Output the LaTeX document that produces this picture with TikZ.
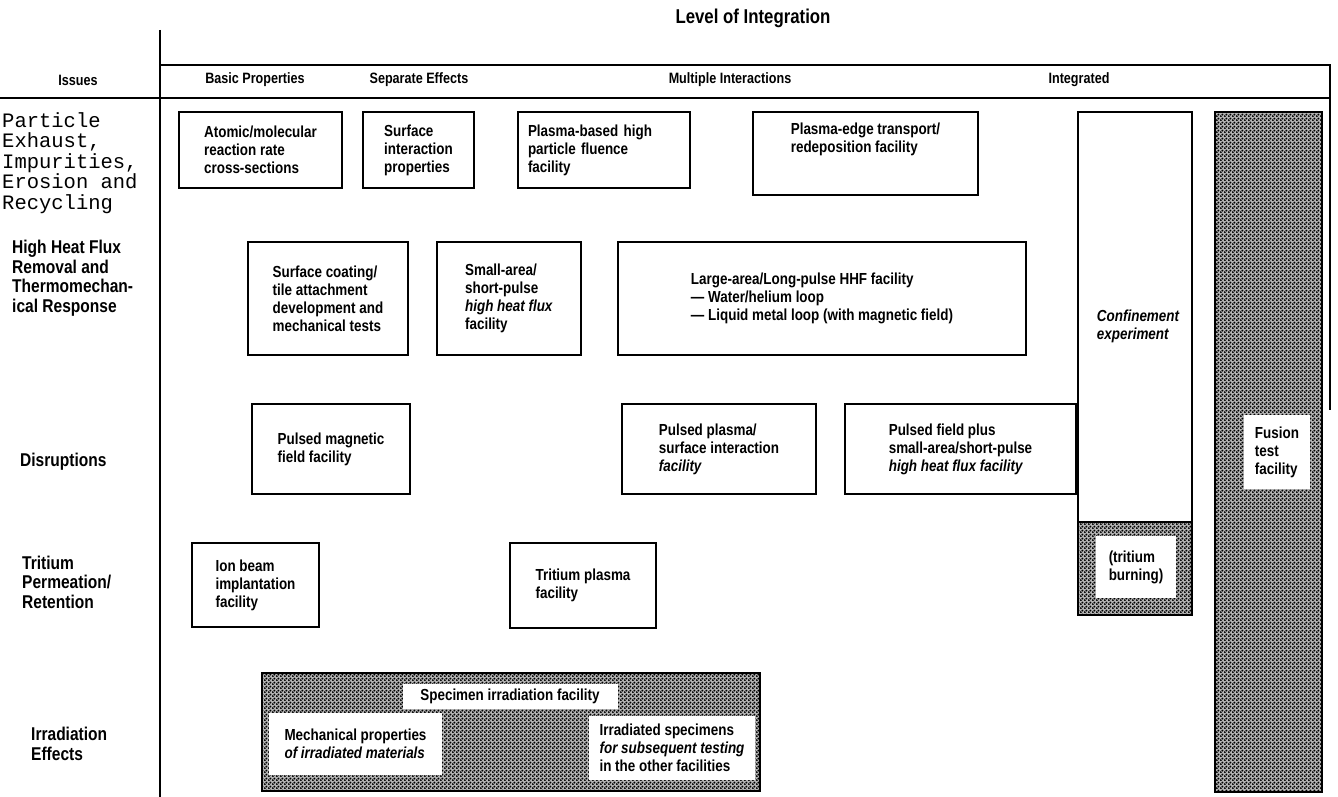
\documentclass[tikz,border=0pt]{standalone}
\usepackage{fontspec}
\setmainfont{Liberation Sans}[FakeStretch=0.84]
\setmonofont{Liberation Mono}
\usetikzlibrary{patterns}

% halftone screen of the shaded facilities
\pgfdeclarepatternformonly{halftone}{\pgfpointorigin}{\pgfpoint{4pt}{4pt}}{\pgfpoint{4pt}{4pt}}{%
    \pgfpathcircle{\pgfpoint{1pt}{1pt}}{1.3pt}%
    \pgfpathcircle{\pgfpoint{3pt}{3pt}}{1.3pt}%
    \pgfusepath{fill}}

\newcommand{\facfont}{\bfseries\fontsize{16}{18}\selectfont}
\newcommand{\issuefont}{\bfseries\fontsize{18.5}{19.5}\selectfont}
\newcommand{\headfont}{\bfseries\fontsize{15}{17}\selectfont}

\tikzset{
    facility/.style={
        draw=black,
        line width=2.5pt,
        align=left,
        inner sep=4pt,
        font=\facfont
    },
    shaded/.style={
        draw=black,
        line width=2.5pt,
        preaction={fill=black!30},
        pattern=halftone,
        pattern color=black
    },
    inset/.style={
        fill=white,
        align=left,
        inner sep=4pt,
        font=\facfont
    },
    issue/.style={
        align=left,
        anchor=west,
        inner sep=0pt,
        font=\issuefont
    },
    heading/.style={
        inner sep=0pt,
        font=\headfont
    },
    rule/.style={
        line width=1.8pt
    }
}

\begin{document}
\begin{tikzpicture}[x=1pt, y=-1pt]
            \useasboundingbox (0,0) rectangle (1338,797);

            % Frame
            \coordinate (axtop) at (160,30);
            \coordinate (axbot) at (160,797);
            \coordinate (hdtl) at (160,65);
            \coordinate (hdtr) at (1330,65);
            \coordinate (hdbl) at (0,98);
            \coordinate (hdbr) at (1330,98);
            \coordinate (rbot) at (1330,410);
            \draw [rule] (axtop) -- (axbot);
            \draw [rule] (hdtl) -- (hdtr) -- (rbot);
            \draw [rule] (hdbl) -- (hdbr);

            % Headings
            \node (level) [heading, font=\bfseries\fontsize{20}{22}\selectfont] at (753,18) {Level of Integration};
            \node (issues) [heading] at (78,80) {Issues};
            \node (basic) [heading] at (255,80) {Basic Properties};
            \node (separate) [heading] at (419,80) {Separate Effects};
            \node (multiple) [heading] at (730,80) {Multiple Interactions};
            \node (integrated) [heading] at (1079,80) {Integrated};

            % Issues
            \node (particle) [
                issue,
                anchor=north west,
                font=\ttfamily\fontsize{20.5}{20.5}\selectfont
            ] at (2,112) {Particle\\Exhaust,\\Impurities,\\Erosion and\\Recycling};
            \node (heatflux) [issue] at (12,278) {High Heat Flux\\Removal and\\Thermomechan-\\ical Response};
            \node (disrupt) [issue] at (20,462) {Disruptions};
            \node (tritium) [issue] at (22,582) {Tritium\\Permeation/\\Retention};
            \node (irrad) [issue] at (31,744) {Irradiation\\Effects};

            % Integrated facilities
            \node (fusion) [shaded, minimum width=107pt, minimum height=680pt] at (1268.5,452) {};
            \node (fusionlbl) [inset, minimum width=66pt, minimum height=74pt] at (1277,452) {Fusion\\test\\facility};
            \node (confine) [facility, minimum width=114pt, minimum height=503pt] at (1135,363.5) {};
            \node (burning) [shaded, minimum width=114pt, minimum height=93pt, anchor=south] at (confine.south) {};
            \node (burninglbl) [inset, minimum width=80pt, minimum height=62pt] at (1136,567) {(tritium\\burning)};
            \node (confinelbl) [inset, fill=none] at (1138,326) {\itshape Confinement\\\itshape experiment};

            % Row 1
            \node (atomic) [facility, minimum width=163pt, minimum height=76pt] at (260.5,150) {Atomic/molecular\\reaction rate\\cross-sections};
            \node (surfint) [facility, minimum width=111pt, minimum height=76pt] at (418.5,150) {Surface\\interaction\\properties};
            \node (fluence) [facility, minimum width=172pt, minimum height=76pt, text width=152pt] at (604,150) {Plasma-based high\\particle fluence\\facility};
            \node (edge) [facility, minimum width=225pt, minimum height=83pt] at (865.5,153.5) {Plasma-edge transport/\\redeposition facility\\[14pt]};

            % Row 2
            \node (coating) [facility, minimum width=160pt, minimum height=113pt] at (328,298.5) {Surface coating/\\tile attachment\\development and\\mechanical tests};
            \node (smallhhf) [facility, minimum width=144pt, minimum height=113pt] at (509,298.5) {Small-area/\\short-pulse\\\textit{high heat flux}\\facility};
            \node (largehhf) [facility, minimum width=408pt, minimum height=113pt] at (822,298.5) {Large-area/Long-pulse HHF facility\\— Water/helium loop\\— Liquid metal loop (with magnetic field)};

            % Row 3
            \node (pulsedmag) [facility, minimum width=158pt, minimum height=90pt] at (331,449) {Pulsed magnetic\\field facility};
            \node (pulsedpl) [facility, minimum width=194pt, minimum height=90pt] at (719,449) {Pulsed plasma/\\surface interaction\\\textit{facility}};
            \node (pulsedfld) [facility, minimum width=231pt, minimum height=90pt] at (960.5,449) {Pulsed field plus\\small-area/short-pulse\\\textit{high heat flux facility}};

            % Row 4
            \node (ionbeam) [facility, minimum width=127pt, minimum height=84pt] at (255.5,585) {Ion beam\\implantation\\facility};
            \node (tplasma) [facility, minimum width=146pt, minimum height=85pt] at (583,585.5) {Tritium plasma\\facility};

            % Row 5
            \node (specimen) [shaded, minimum width=498pt, minimum height=118pt] at (511,732) {};
            \node (specimenlbl) [inset, minimum width=215pt, minimum height=25pt] at (510,696) {Specimen irradiation facility};
            \node (mechprop) [inset, minimum width=173pt, minimum height=62pt] at (355.5,744) {Mechanical properties\\\textit{of irradiated materials}};
            \node (irrspec) [inset, minimum width=166pt, minimum height=64pt] at (672,748) {Irradiated specimens\\\textit{for subsequent testing}\\in the other facilities};
        \end{tikzpicture}
\end{document}
